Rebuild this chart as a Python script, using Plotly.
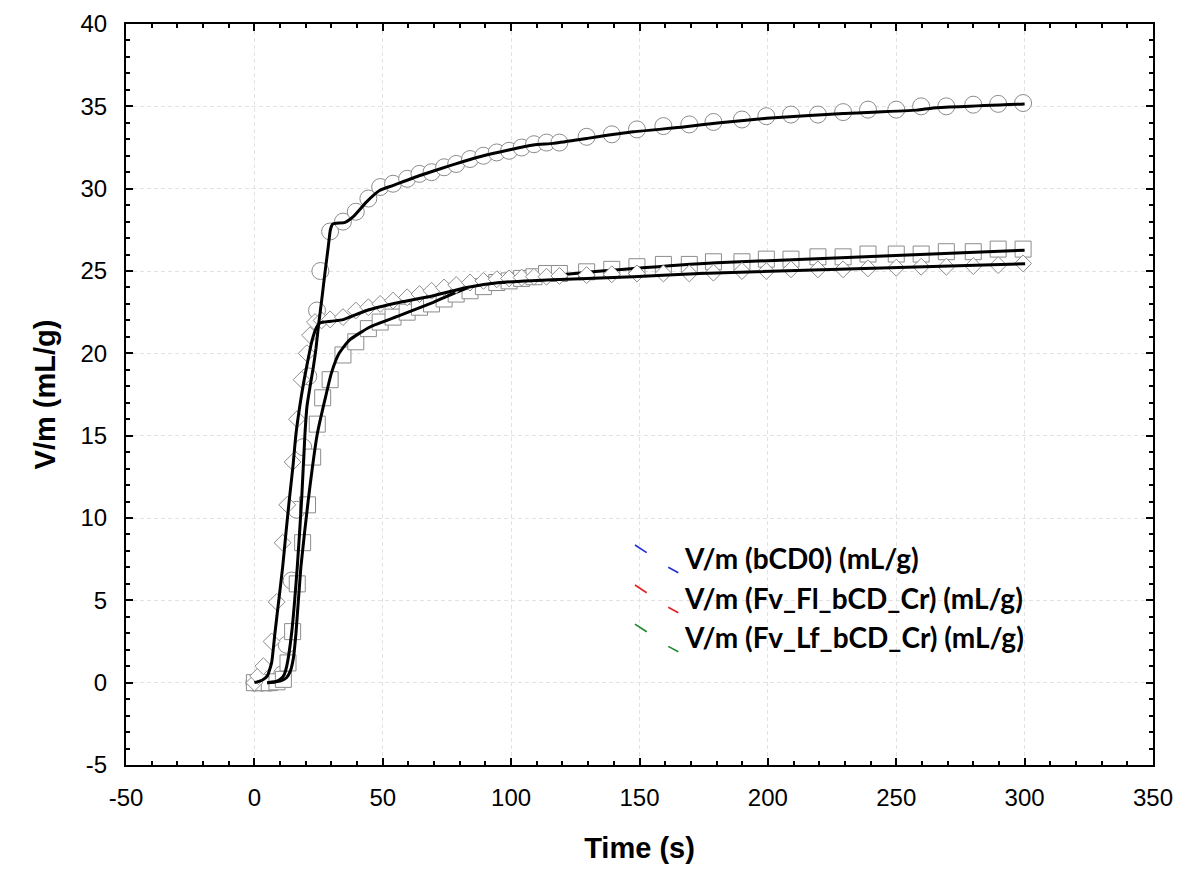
import plotly.graph_objects as go

# ---------------- data ----------------
# common sampling times of the later markers (s)
t_late = [29.5, 34.5, 39.5, 44.4, 49, 54, 59.5, 64.3, 69, 73.9, 78.6, 84, 89.2, 94.4, 99.2,
          104.1, 108.9, 113.8, 118.8, 129.4, 139.2, 149, 159.3, 169.4, 178.8, 189.9, 199.4,
          209, 219.5, 229.3, 239, 250, 259.7, 269.5, 280, 289.7, 299.4]

# circles  (bCD0)
circ_t_early = [0, 3, 6, 9, 10.8, 12.6, 14.5, 16.5, 19, 21, 24.4, 25.7]
circ_y_early = [0, 0, 0, 0.1, 0.5, 2.3, 6.2, 10.5, 14.3, 18.6, 22.6, 25.0]
circ_y_late = [27.4, 28.0, 28.6, 29.4, 30.1, 30.3, 30.6, 30.9, 31.0, 31.3, 31.5, 31.8, 32.0, 32.2,
               32.3, 32.5, 32.7, 32.8, 32.8, 33.15, 33.3, 33.6, 33.8, 33.9, 34.05, 34.2, 34.4,
               34.5, 34.5, 34.65, 34.8, 34.8, 35.0, 35.0, 35.1, 35.15, 35.2]

# squares  (Fv_Fl_bCD_Cr)
sq_t_early = [0, 2.8, 5.8, 8.8, 11.3, 13.1, 14.9, 16.7, 18.8, 20.7, 22.7, 24.5, 26.6]
sq_y_early = [0, 0, 0, 0.05, 0.2, 1.2, 3.1, 6.0, 8.5, 10.8, 13.7, 15.7, 17.3]
sq_y_late = [18.4, 19.9, 20.7, 21.5, 21.9, 22.2, 22.5, 22.8, 23.0, 23.3, 23.6, 23.8, 24.05, 24.3,
             24.4, 24.55, 24.65, 24.85, 24.85, 24.95, 25.1, 25.26, 25.4, 25.4, 25.56, 25.56, 25.72,
             25.72, 25.86, 25.86, 26.03, 26.03, 26.03, 26.17, 26.17, 26.33, 26.33]

# diamonds (Fv_Lf_bCD_Cr)
dia_t_early = [0, 1.5, 3.5, 6.7, 8.7, 11.0, 12.8, 14.9, 16.6, 18.4, 20.4, 21.7, 23.6, 26.2]
dia_y_early = [0, 0.4, 1.0, 2.5, 4.9, 8.5, 10.8, 13.4, 16.0, 18.4, 20.0, 21.1, 21.9, 22.0]
dia_y_late = [22.06, 22.2, 22.6, 22.8, 23.0, 23.2, 23.4, 23.6, 23.8, 24.0, 24.15, 24.3, 24.4, 24.5,
              24.55, 24.6, 24.65, 24.65, 24.7, 24.75, 24.8, 24.85, 24.85, 24.85, 24.9, 25.0, 25.0,
              25.1, 25.1, 25.1, 25.16, 25.2, 25.26, 25.26, 25.3, 25.36, 25.46, 25.5]

# fitted curves (black lines)
circ_fit_t = [5, 8, 10, 11.5, 12.6, 14.5, 16.7, 18.4, 19.7, 20.5, 21.7, 23, 24, 24.9, 26.2, 27.5,
              28.8, 29.6, 30.5, 32, 35.3, 38.5, 43.7, 48.9, 54.1, 64.5, 76.2, 89.2, 108.6, 116.4,
              129.4, 147.6, 167.1, 181.3, 199.5, 229.4, 258, 264.4, 300]
circ_fit_y = [0, 0.05, 0.2, 0.45, 1.0, 3.0, 7.0, 11.1, 15.1, 16.8, 18.0, 19.2, 20.3, 21.6, 23.2,
              24.9, 26.5, 27.5, 27.85, 27.9, 27.95, 28.3, 29.2, 29.9, 30.2, 30.8, 31.4, 32.0, 32.65,
              32.75, 33.05, 33.45, 33.75, 34.0, 34.27, 34.57, 34.77, 34.9, 35.14]

sq_fit_t = [5, 10, 12.5, 14, 15.2, 16.2, 18.1, 21, 24.5, 27.5, 30, 33, 37, 45, 56.7, 69.7, 80.1,
            86.6, 99.6, 121.6, 147.6, 180, 300]
sq_fit_y = [0, 0.1, 0.3, 0.7, 1.5, 3.0, 7.0, 11.1, 15.1, 17.2, 18.8, 20.0, 20.8, 21.6, 22.3, 23.1,
            23.8, 24.15, 24.35, 24.8, 25.15, 25.5, 26.26]

dia_fit_t = [0, 3, 5, 6.7, 8, 9.5, 11, 12.3, 13.6, 15, 16.2, 18.4, 20.5, 22.5, 24.3, 25.5, 30, 34.6,
             43.7, 56.7, 69.7, 82.7, 95.6, 110, 121.6, 147.6, 173.5, 300.2]
dia_fit_y = [0, 0.15, 0.4, 1.2, 3.0, 5.0, 7.0, 9.1, 11.1, 13.1, 15.1, 17.5, 19.3, 20.8, 21.6, 21.85,
             21.95, 22.05, 22.6, 23.1, 23.5, 24.0, 24.3, 24.42, 24.5, 24.65, 24.85, 25.44]

legend_labels = ["V/m (bCD0) (mL/g)", "V/m (Fv_Fl_bCD_Cr) (mL/g)", "V/m (Fv_Lf_bCD_Cr) (mL/g)"]
legend_colors = ["#1f2fd0", "#e02020", "#1a8a2a"]

x_ticks = [-50, 0, 50, 100, 150, 200, 250, 300, 350]
y_ticks = [-5, 0, 5, 10, 15, 20, 25, 30, 35, 40]

# ---------------- figure ----------------
MK_LINE = dict(color="#8c8c8c", width=1)
LINE = dict(color="black", width=3, shape="spline", smoothing=0.5)
fig = go.Figure()

fig.add_trace(go.Scatter(x=circ_t_early + t_late, y=circ_y_early + circ_y_late, mode="markers",
                         marker=dict(symbol="circle", size=17, color="white", line=MK_LINE),
                         showlegend=False, hoverinfo="skip"))
fig.add_trace(go.Scatter(x=sq_t_early + t_late, y=sq_y_early + sq_y_late, mode="markers",
                         marker=dict(symbol="square", size=16, color="white", line=MK_LINE),
                         showlegend=False, hoverinfo="skip"))
fig.add_trace(go.Scatter(x=sq_fit_t, y=sq_fit_y, mode="lines", line=LINE, showlegend=False))
fig.add_trace(go.Scatter(x=dia_t_early + t_late, y=dia_y_early + dia_y_late[:len(t_late)],
                         mode="markers",
                         marker=dict(symbol="diamond", size=13, color="white", line=MK_LINE),
                         showlegend=False, hoverinfo="skip"))
fig.add_trace(go.Scatter(x=dia_fit_t, y=dia_fit_y, mode="lines", line=LINE, showlegend=False))
fig.add_trace(go.Scatter(x=circ_fit_t, y=circ_fit_y, mode="lines", line=LINE, showlegend=False))

# custom legend (text + small slanted coloured strokes)
leg_x = 0.5414
leg_y = [0.2794, 0.2254, 0.1727]
shapes = []
annotations = []
for i, (lab, col) in enumerate(zip(legend_labels, legend_colors)):
    yc = leg_y[i]
    annotations.append(dict(xref="paper", yref="paper", x=leg_x, y=yc, xanchor="left",
                            yanchor="middle", showarrow=False, text="<b>" + lab + "</b>",
                            font=dict(family="Lato", size=28, color="black")))
    shapes.append(dict(type="line", xref="paper", yref="paper",
                       x0=0.4956, x1=0.5070, y0=yc + 0.0175, y1=yc + 0.0071,
                       line=dict(color=col, width=1.6)))
    shapes.append(dict(type="line", xref="paper", yref="paper",
                       x0=0.5280, x1=0.5378, y0=yc - 0.0126, y1=yc - 0.0199,
                       line=dict(color=col, width=1.6)))

axis_common = dict(showline=True, linecolor="black", linewidth=2, mirror="allticks",
                   ticks="inside", ticklen=7, tickwidth=2, tickcolor="black",
                   showgrid=True, gridcolor="#e2e2e2", griddash="4px,3px", gridwidth=1,
                   zeroline=False, automargin=False,
                   tickfont=dict(family="Liberation Sans", size=24, color="black"))

fig.update_layout(
    width=1200, height=884,
    paper_bgcolor="white", plot_bgcolor="white",
    margin=dict(l=118, r=55, t=16, b=127),
    xaxis=dict(range=[-50, 350], tickvals=x_ticks, ticktext=[str(v) for v in x_ticks],
               ticklabelstandoff=10,
               minor=dict(dtick=10, ticks="inside", ticklen=4, tickwidth=2, tickcolor="black",
                          showgrid=False),
               title=dict(text="<b>Time (s)</b>", standoff=28,
                          font=dict(family="Liberation Sans", size=29, color="black")),
               **axis_common),
    yaxis=dict(range=[-5, 40], tickvals=y_ticks, ticktext=[str(v) for v in y_ticks],
               ticklabelstandoff=12,
               minor=dict(dtick=1, ticks="inside", ticklen=4, tickwidth=2, tickcolor="black",
                          showgrid=False),
               title=dict(text="<b>V/m (mL/g)</b>", standoff=16,
                          font=dict(family="Liberation Sans", size=29, color="black")),
               **axis_common),
    shapes=shapes, annotations=annotations,
)

fig.write_html("out.html")
